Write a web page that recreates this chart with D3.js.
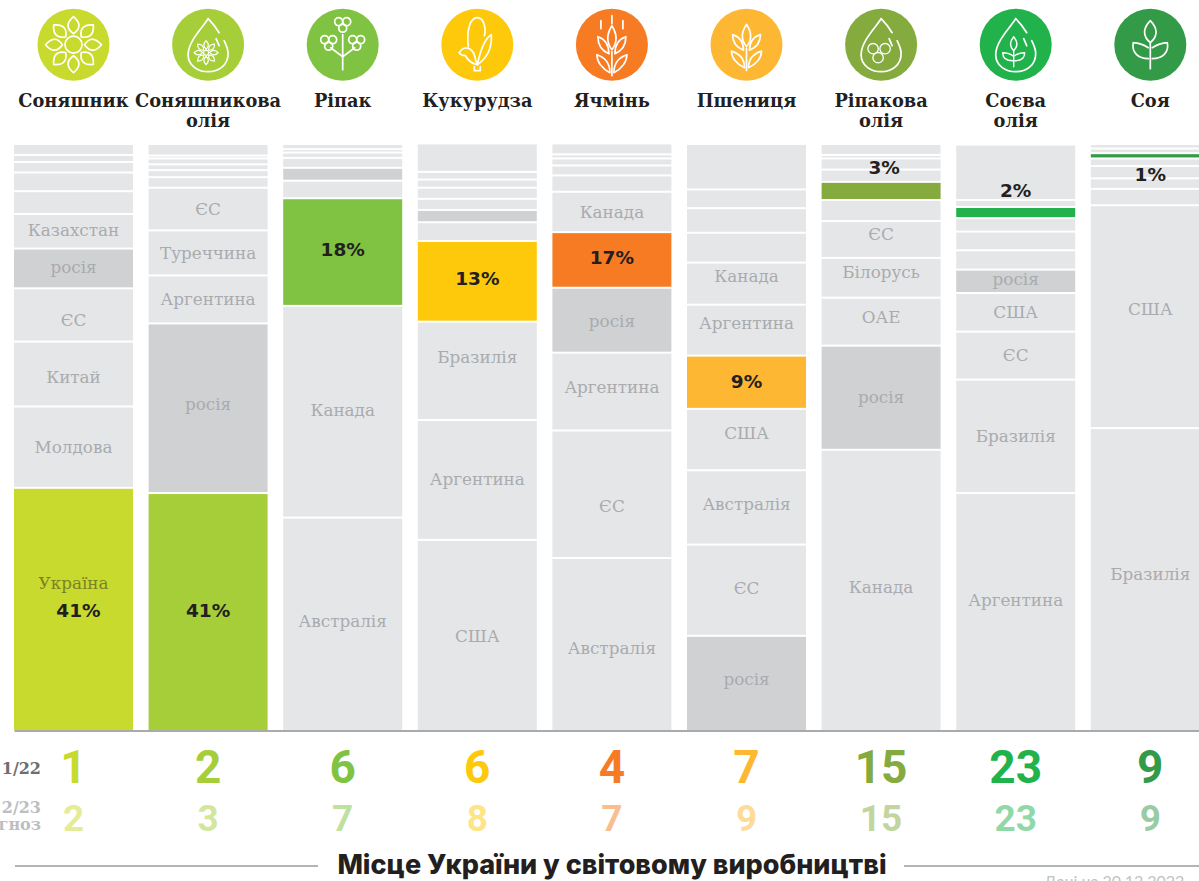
<!DOCTYPE html>
<html lang="uk"><head><meta charset="utf-8">
<script src="https://cdn.jsdelivr.net/npm/d3@7/dist/d3.min.js"></script>
<style>
html,body{margin:0;padding:0;background:#fff;overflow:hidden}
svg{display:block}
</style></head><body>
<svg id="c" width="1199" height="881"></svg>
<script>
// ---- data (shares run from the bottom of each column upward)
const categories = ["Соняшник","Соняшникова олія","Ріпак","Кукурудза","Ячмінь","Пшениця","Ріпакова олія","Соєва олія","Соя"];
const sunflowerShares = [41.4,13.9,11.1,9.1,6.8,5.9,3.9,3.2,1.8,1.2,1.7];
const sunflowerLabels = ["Україна","Молдова","Китай","ЄС","росія","Казахстан","","","","",""];
const sunOilShares = [40.5,29.0,8.2,7.7,7.3,1.8,1.2,1.0,1.0,0.5,1.8];
const sunOilLabels = ["","росія","Аргентина","Туреччина","ЄС","","","","","",""];
const rapeShares = [36.3,36.2,18.4,3.0,2.2,1.7,0.9,0.6,0.7];
const rapeLabels = ["Австралія","Канада","","","","","","",""];
const cornShares = [32.5,20.5,16.8,13.8,3.2,2.1,1.9,1.9,1.4,1.3,4.7];
const cornLabels = ["США","Аргентина","Бразилія","","","","","","","",""];
const barleyShares = [29.4,21.8,13.3,11.1,9.5,6.9,2.8,1.7,1.2,0.7,1.7];
const barleyLabels = ["Австралія","ЄС","Аргентина","росія","","Канада","","","","",""];
const wheatShares = [16.1,15.6,12.7,10.5,9.1,8.7,7.2,5.1,4.2,3.2,7.6];
const wheatLabels = ["росія","ЄС","Австралія","США","","Аргентина","Канада","","","",""];
const rapeOilShares = [47.9,17.8,8.2,6.8,6.3,3.6,3.1,2.1,1.9,0.6,1.7];
const rapeOilLabels = ["Канада","росія","ОАЕ","Білорусь","ЄС","","","","","",""];
const soyOilShares = [40.5,19.4,8.2,6.6,4.0,3.3,3.2,2.3,1.9,1.2,9.3];
const soyOilLabels = ["Аргентина","Бразилія","ЄС","США","росія","","","","","",""];
const soyShares = [51.6,38.1,2.8,1.8,2.1,1.3,0.9,0.8,0.6];
const soyLabels = ["Бразилія","США","","","","","","",""];
const ukraineIndex = [0,0,2,3,4,4,6,8,6];
const russiaIndex = [4,1,4,5,3,0,1,4,-1];
const ukrainePercent = ["41%","41%","18%","13%","17%","9%","3%","2%","1%"];
const rank2122 = [1,2,6,6,4,7,15,23,9];
const rank2223 = [2,3,7,8,7,9,15,23,9];
const cropColors = ["#c9da2f","#a6ce39","#80c342","#fec90a","#f67b22","#feb733","#85ab3f","#22b24c","#339a47"];

// text placement tweaks only (pixels away from a segment's middle)
const pctNudge = [3,1,-1,-1,-1,1,-22,-20,21];
const pctNudgeX = [5,0,0,0,0,0,3,0,0];
const labelNudge = [
  [1,0,4,6,-1,-1],[0,-4,0,1,1],[-2,-1],[2,0,-13],[5,12,-4,1,0,1],
  [-3,-2,-3,-6,0,-7,-7],[-2,0,-4,-5,-5],[-11,0,0,0,-2],[-4,-7]
];

const allShares = [sunflowerShares,sunOilShares,rapeShares,cornShares,barleyShares,wheatShares,rapeOilShares,soyOilShares,soyShares];
const allLabels = [sunflowerLabels,sunOilLabels,rapeLabels,cornLabels,barleyLabels,wheatLabels,rapeOilLabels,soyOilLabels,soyLabels];

const SLAB = "'DejaVu Serif',serif";
const svg = d3.select("#c");
const x = d3.scaleBand().domain(categories).range([14,1209.8]).paddingInner(0.116).paddingOuter(0);
const y = d3.scaleLinear().domain([0,100]).range([730,145]);
const cx = c => x(c)+x.bandwidth()/2;

// stacked columns
const layout = categories.map((c,i)=>{
  let acc=0;
  return allShares[i].map((v,j)=>{
    const seg={crop:c,col:i,j,v0:acc,v1:acc+v,label:allLabels[i][j]};
    acc+=v; return seg;
  });
});
const col = svg.selectAll("g.col").data(layout).join("g").attr("class","col");
col.selectAll("rect").data(d=>d).join("rect")
  .attr("x",d=>x(d.crop))
  .attr("width",x.bandwidth())
  .attr("y",d=>y(d.v1)+(d.j===allShares[d.col].length-1?0:1))
  .attr("height",d=>{
    const h=y(d.v0)-y(d.v1);
    const top=d.j===allShares[d.col].length-1?0:1;
    const bot=d.j===0?0:1;
    return Math.max(h-top-bot,0.8);
  })
  .attr("fill",d=> d.j===ukraineIndex[d.col]?cropColors[d.col]:(d.j===russiaIndex[d.col]?"#d0d1d3":"#e5e6e8"));

col.selectAll("text.lab").data(d=>d.filter(s=>s.label)).join("text")
  .attr("class","lab")
  .attr("x",d=>cx(d.crop))
  .attr("y",d=>(y(d.v0)+y(d.v1))/2+(d.j===ukraineIndex[d.col]?-26:0)+(labelNudge[d.col][d.j]||0))
  .attr("dy","0.32em")
  .attr("text-anchor","middle")
  .attr("font-family",SLAB).attr("font-size",16.8)
  .attr("fill",d=>d.j===ukraineIndex[d.col]?"#7b8225":"#a9abae")
  .text(d=>d.label);

svg.selectAll("text.pct").data(categories).join("text")
  .attr("class","pct")
  .attr("x",(c,i)=>cx(c)+pctNudgeX[i])
  .attr("y",(c,i)=>{const s=layout[i][ukraineIndex[i]];return (y(s.v0)+y(s.v1))/2+pctNudge[i]-2;})
  .attr("dy","0.36em").attr("text-anchor","middle")
  .attr("font-family","'DejaVu Sans',sans-serif").attr("font-weight",700).attr("font-size",18.5)
  .attr("fill","#231f20")
  .text((c,i)=>ukrainePercent[i]);

// baseline through the library's axis
svg.append("g").attr("transform","translate(0,730.5)")
  .call(d3.axisBottom(x).tickSize(0).tickFormat(""))
  .call(g=>g.select(".domain").attr("stroke","#8d8e90").attr("stroke-width",1.6));

// crop headers
const titleLines = c => c.split(" ");
svg.selectAll("g.head").data(categories).join("g").attr("class","head")
  .each(function(c){
    const t=d3.select(this).append("text").attr("text-anchor","middle")
      .attr("font-family",SLAB).attr("font-weight",700).attr("font-size",17.8)
      .attr("fill","#231f20");
    titleLines(c).forEach((s,k)=>t.append("tspan").attr("x",cx(c)).attr("y",107+k*19.5).text(s));
  });

// icons
const iconG = svg.selectAll("g.icon").data(categories).join("g").attr("class","icon")
  .attr("transform",c=>`translate(${cx(c)},44.7)`);
iconG.append("circle").attr("r",36).attr("fill",(c,i)=>cropColors[i]);
const art = iconG.append("g").attr("fill","none").attr("stroke","#fff").attr("stroke-width",1.7)
  .attr("stroke-linecap","round").attr("stroke-linejoin","round");
const leaf=(r0,r1,w)=>`M0,${-r0}C${-w},${-(r0+(r1-r0)*.35)} ${-w*.7},${-(r0+(r1-r0)*.7)} 0,${-r1}C${w*.7},${-(r0+(r1-r0)*.7)} ${w},${-(r0+(r1-r0)*.35)} 0,${-r0}Z`;
const drop="M0,-26C-3,-20 -20,-4 -20,10C-20,21 -10,27 0,27C11,27 20,20 20,9C20,5 18,0 16,-4M11,-12C8,-17 4,-22 0,-26M8,-6L11,1";
const petals=(g,n,r0,r1,w)=>{d3.range(n).forEach(k=>g.append("path").attr("d",leaf(r0,r1,w)).attr("transform",`rotate(${k*360/n})`));};
art.each(function(c,i){
  const g=d3.select(this);
  if(i===0){ g.append("circle").attr("r",8.5); petals(g,8,11,28,8.5); }
  if(i===1){ g.append("path").attr("d",drop);
    const f=g.append("g").attr("transform","translate(-2,8)").attr("stroke-width",1.2);
    f.append("circle").attr("r",2.5); petals(f,8,3.5,12,3.5); }
  if(i===2){
    g.append("path").attr("d","M0,25V-10M-12,3L0,12L12,3");
    [[0,-20],[-14,-2],[14,-2]].forEach(p=>{
      [[-4,-3],[4,-3],[0,3.5]].forEach(q=>{
        g.append("circle").attr("cx",p[0]+q[0]).attr("cy",p[1]+q[1]).attr("r",4);});
    });
  }
  if(i===3){
    g.append("path").attr("d","M-9,2C-11,-15 -7,-27 0,-27C7,-27 9,-15 7,-9");
    g.append("path").attr("d","M14,-10C7,-6 3,6 0,20C8,15 15,5 14,-10Z");
    g.append("path").attr("d","M-18,8C-14,1 -6,2 -3,10C-2,14 -1,18 0,20");
    g.append("path").attr("d","M-18,8C-17,10 -15,11 -12,11C-9,16 -5,19 0,20");
    g.append("path").attr("d","M-3,22V26H3V22");
  }
  if(i===4||i===5){
    const k=i===4?1:.92;
    const e=g.append("g").attr("transform",i===4?"translate(0,3)":"translate(0,0)");
    e.append("path").attr("d",`M0,${28*k}V${4*k}`);
    e.append("path").attr("d",leaf(-2*k,22*k,6.5));
    [[-1],[1]].forEach(([s])=>{
      e.append("path").attr("d",`M${s*3},${6*k}C${s*10},${3*k} ${s*14},${-2*k} ${s*14},${-11*k}C${s*8},${-9*k} ${s*3},${-5*k} ${s*3},${6*k}Z`);
      e.append("path").attr("d",`M${s*2},${25*k}C${s*2},${13*k} ${s*9},${9*k} ${s*15},${7*k}C${s*15},${14*k} ${s*10},${21*k} ${s*2},${25*k}Z`);
    });
    if(i===4){ g.append("path").attr("d","M0,-29V-21M-11,-24V-16M11,-24V-16"); }
  }
  if(i===6){ g.append("path").attr("d",drop);
    const f=g.append("g").attr("transform","translate(-2,8)").attr("stroke-width",1.3);
    [[-6,-4],[6,-4],[-1,5]].forEach(q=>f.append("circle").attr("cx",q[0]).attr("cy",q[1]).attr("r",5.2)); }
  if(i===7){ g.append("path").attr("d",drop);
    const f=g.append("g").attr("transform","translate(-2,8)").attr("stroke-width",1.4);
    f.append("path").attr("d","M0,14V-2"); f.append("path").attr("d",leaf(2,16,5));
    f.append("path").attr("d","M-1,3C-5,0 -9,0 -11,0C-11,6 -6,8 -1,8"); f.append("path").attr("d","M1,3C5,0 9,0 11,0C11,6 6,8 1,8"); }
  if(i===8){
    g.append("path").attr("d","M0,24V-2");
    g.append("path").attr("d",leaf(2,24,9));
    g.append("path").attr("d","M-2,3C-10,-2 -18,-2 -17,-2C-19,8 -12,14 -2,14");
    g.append("path").attr("d","M2,3C10,-2 18,-2 17,-2C19,8 12,14 2,14");
  }
});

// ranks
const rankFont="Roboto,sans-serif";
svg.selectAll("text.r1").data(categories).join("text").attr("class","r1")
  .attr("x",cx).attr("y",783).attr("text-anchor","middle")
  .attr("font-family",rankFont).attr("font-weight",700).attr("font-size",46)
  .attr("fill",(c,i)=>cropColors[i]).text((c,i)=>rank2122[i]);
svg.selectAll("text.r2").data(categories).join("text").attr("class","r2")
  .attr("x",cx).attr("y",831).attr("text-anchor","middle")
  .attr("font-family",rankFont).attr("font-weight",700).attr("font-size",37)
  .attr("fill",(c,i)=>cropColors[i]).attr("fill-opacity",.5).text((c,i)=>rank2223[i]);

// row captions (cut by the page's left edge in the original)
const rowLab=(t,yy,f)=>svg.append("text").attr("x",41).attr("y",yy).attr("text-anchor","end")
  .attr("font-family",SLAB).attr("font-weight",700).attr("font-size",16).attr("fill",f).text(t);
rowLab("1/22",774,"#6d6e71");
rowLab("2/23",813,"#bcbec0");
rowLab("гноз",830,"#bcbec0");

// footer
svg.append("line").attr("x1",15).attr("x2",318).attr("y1",866).attr("y2",866).attr("stroke","#9a9b9d").attr("stroke-width",1.4);
svg.append("line").attr("x1",904).attr("x2",1199).attr("y1",866).attr("y2",866).attr("stroke","#9a9b9d").attr("stroke-width",1.4);
svg.append("text").attr("x",612).attr("y",874).attr("text-anchor","middle")
  .attr("font-family","Inter,sans-serif").attr("font-weight",800).attr("font-size",27).attr("fill","#231f20")
  .text("Місце України у світовому виробництві");
svg.append("text").attr("x",1044).attr("y",887)
  .attr("font-family","Lato,sans-serif").attr("font-size",16).attr("fill","#c2c3c5")
  .text("Дані на 20.12.2022");
</script>
</body></html>
